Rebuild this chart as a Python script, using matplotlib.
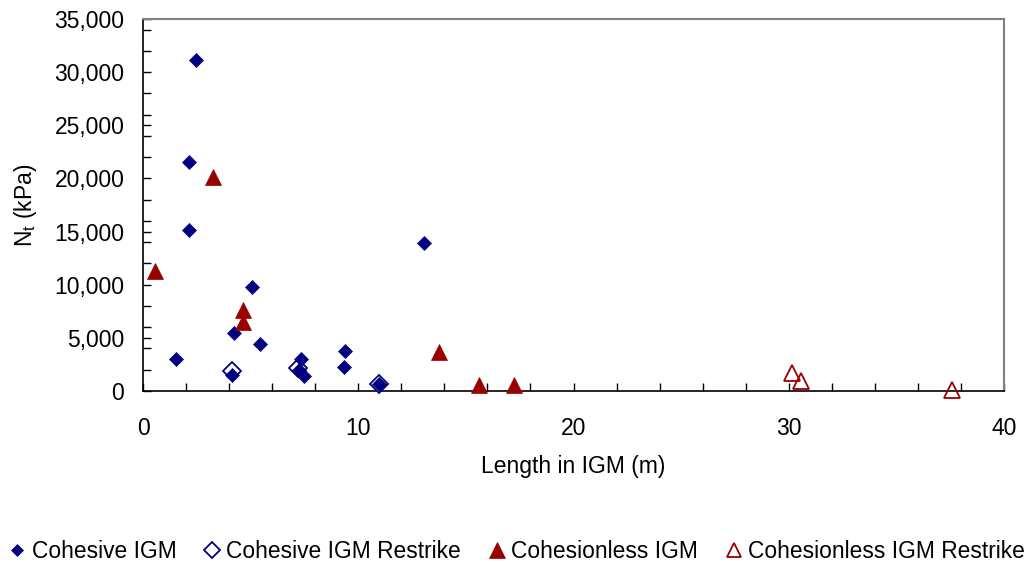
import matplotlib
matplotlib.use("Agg")
import matplotlib.pyplot as plt
from matplotlib.ticker import MultipleLocator, FuncFormatter

plt.rcParams['font.family'] = ['Liberation Sans', 'DejaVu Sans']

# Data
coh_x = [2.47, 2.14, 2.14, 1.53, 4.23, 5.07, 5.44, 4.14, 7.35, 7.26, 7.46, 9.40, 9.35, 10.95, 13.07]
coh_y = [31150, 21550, 15150, 3000, 5450, 9800, 4420, 1500, 2980, 1980, 1420, 3730, 2230, 650, 13900]

coh_rs_x = [4.14, 7.20, 10.95]
coh_rs_y = [1900, 2120, 700]

cls_x = [0.54, 3.27, 4.64, 4.64, 13.77, 15.60, 17.24]
cls_y = [11250, 20150, 7650, 6500, 3650, 550, 550]

cls_rs_x = [30.15, 30.56, 37.57]
cls_rs_y = [1650, 900, 50]

labels = ['Cohesive IGM', 'Cohesive IGM Restrike', 'Cohesionless IGM', 'Cohesionless IGM Restrike']

navy = '#000080'
red = '#990000'
FS = 16.5

fig = plt.figure(figsize=(10.34, 5.63), dpi=100)
ax = fig.add_axes([143/1034, 1 - 391/563, (1004 - 143)/1034, (391 - 19)/563])

ax.plot(coh_rs_x, coh_rs_y, linestyle='none', marker='D', ms=9, mfc='white', mec=navy, mew=1.3,
        label=labels[1], zorder=3, clip_on=False)
ax.plot(coh_x, coh_y, linestyle='none', marker='D', ms=6.9, mfc=navy, mec=navy, mew=0.5,
        label=labels[0], zorder=4, clip_on=False)
ax.plot(cls_x, cls_y, linestyle='none', marker='^', ms=11.5, mfc=red, mec=red, mew=0.5,
        label=labels[2], zorder=4, clip_on=False)
ax.plot(cls_rs_x, cls_rs_y, linestyle='none', marker='^', ms=11, mfc='none', mec=red, mew=1.3,
        label=labels[3], zorder=4, clip_on=False)

ax.set_xlim(0, 40)
ax.set_ylim(0, 35000)
ax.xaxis.set_major_locator(MultipleLocator(10))
ax.xaxis.set_minor_locator(MultipleLocator(2))
ax.yaxis.set_major_locator(MultipleLocator(5000))
ax.yaxis.set_minor_locator(MultipleLocator(2000))
ax.yaxis.set_major_formatter(FuncFormatter(lambda v, p: f'{int(v):,}'))

ax.tick_params(axis='both', which='both', direction='in', colors='black', labelsize=FS, width=1)
ax.tick_params(which='major', length=6)
ax.tick_params(which='minor', length=6)
ax.tick_params(axis='x', pad=18.5)
ax.tick_params(axis='y', pad=13.5)

for s in ['left', 'bottom']:
    ax.spines[s].set_color('black')
    ax.spines[s].set_linewidth(1.2)
for s in ['top', 'right']:
    ax.spines[s].set_color('#808080')
    ax.spines[s].set_linewidth(1.5)

ax.set_xlabel('Length in IGM (m)', fontsize=FS, labelpad=11)
ax.set_ylabel('N$_\\mathregular{t}$ (kPa)', fontsize=FS, labelpad=11)

h, l = ax.get_legend_handles_labels()
order = [1, 0, 2, 3]
h = [h[i] for i in order]
l = [l[i] for i in order]
fig.legend(h, l, loc='center', bbox_to_anchor=(0.5, 1 - 551/563), ncol=4, frameon=False,
           fontsize=16.4, handlelength=0.7, handletextpad=0.3, columnspacing=1.2, markerscale=0.95,
           borderpad=0, borderaxespad=0)

fig.savefig('out.png', dpi=100)
